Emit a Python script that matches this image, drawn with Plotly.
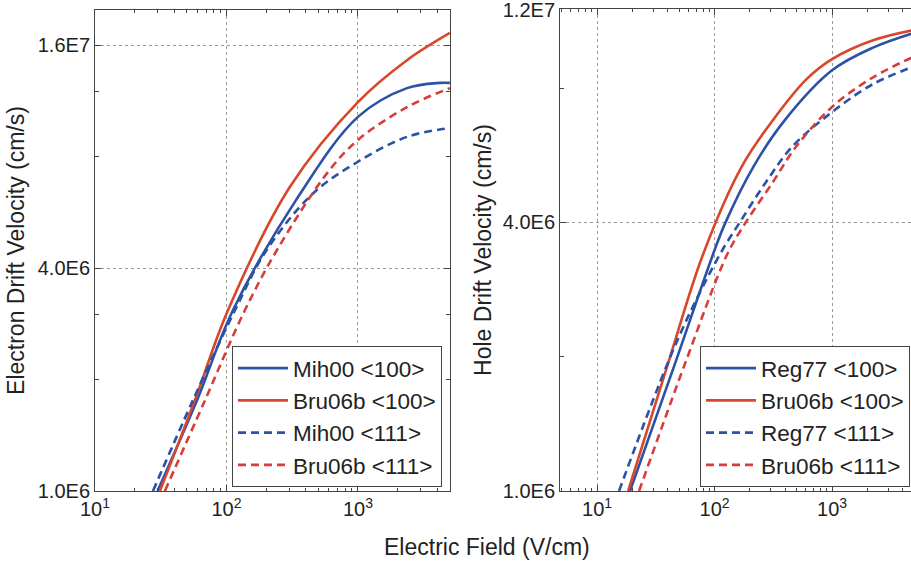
import plotly.graph_objects as go

# ---------------- data ----------------
# Electrons (left panel): electric field (V/cm) and drift velocity (cm/s)
e_mih100_E = [29.9, 59.7, 112, 338, 1000, 2360, 4200, 5000]
e_mih100_v = [1.0e6, 1.76e6, 3.08e6, 6.11e6, 1.026e7, 1.227e7, 1.268e7, 1.268e7]

e_bru100_E = [31.2, 57.5, 102.6, 304, 1000, 2360, 5000]
e_bru100_v = [1.0e6, 1.76e6, 3.08e6, 6.64e6, 1.125e7, 1.46e7, 1.73e7]

e_mih111_E = [27.6, 55.6, 116, 202, 457, 1000, 2360, 5000]
e_mih111_v = [1.0e6, 1.76e6, 3.08e6, 4.48e6, 6.38e6, 7.76e6, 9.06e6, 9.57e6]

e_bru111_E = [34.0, 68.7, 138, 242, 581, 1000, 2360, 5000]
e_bru111_v = [1.0e6, 1.76e6, 3.08e6, 4.48e6, 7.22e6, 8.89e6, 1.09e7, 1.227e7]

# Holes (right panel)
h_reg100_E = [19.1, 46.1, 97, 123, 214, 398, 1000, 2234, 5000]
h_reg100_v = [1.0e6, 1.93e6, 3.39e6, 3.98e6, 5.33e6, 6.79e6, 8.77e6, 9.86e6, 1.064e7]

h_bru100_E = [18.4, 40.2, 79.8, 170, 315, 610, 1000, 2234, 5000]
h_bru100_v = [1.0e6, 1.93e6, 3.39e6, 5.33e6, 6.79e6, 8.39e6, 9.29e6, 1.024e7, 1.08e7]

h_reg111_E = [15.4, 48, 111, 162, 269, 457, 1000, 2234, 5000]
h_reg111_v = [1.0e6, 2.17e6, 3.39e6, 3.98e6, 4.89e6, 5.91e6, 7.07e6, 8.17e6, 8.95e6]

h_bru111_E = [22.8, 56.1, 128, 182, 308, 494, 1000, 2234, 5000]
h_bru111_v = [1.0e6, 1.93e6, 3.39e6, 3.98e6, 4.89e6, 5.91e6, 7.26e6, 8.46e6, 9.42e6]

# tick labels
x_tickvals = [10, 100, 1000]
x_ticktext = ["10<sup>1</sup>", "10<sup>2</sup>", "10<sup>3</sup>"]
x_minor = [m * 10 ** k for k in range(0, 4) for m in range(2, 10)]
yl_tickvals = [1e6, 4e6, 1.6e7]
yl_ticktext = ["1.0E6", "4.0E6", "1.6E7"]
yl_minor = [2e6, 3e6, 8e6, 1.2e7]
yr_tickvals = [1e6, 4e6, 1.2e7]
yr_ticktext = ["1.0E6", "4.0E6", "1.2E7"]
yr_minor = [2e6, 8e6]

BLUE = "#2B52A6"
RED = "#D8472C"
RED_D = "#D93D3A"
FONT = "Liberation Sans"
TXT = "#222222"
AX = "#444444"

fig = go.Figure()

def add(E, v, name, color, dash, xa, ya, legend, grp):
    fig.add_trace(go.Scatter(
        x=E, y=v, mode="lines", name=name,
        line=dict(color=color, width=2.6, dash=dash, shape="spline", smoothing=1.0),
        xaxis=xa, yaxis=ya, legend=legend, legendgroup=grp,
    ))

DASH = "8px,5px"
add(e_mih100_E, e_mih100_v, "Mih00 <100>", BLUE, "solid", "x", "y", "legend", "a1")
add(e_bru100_E, e_bru100_v, "Bru06b <100>", RED, "solid", "x", "y", "legend", "a2")
add(e_mih111_E, e_mih111_v, "Mih00 <111>", BLUE, DASH, "x", "y", "legend", "a3")
add(e_bru111_E, e_bru111_v, "Bru06b <111>", RED_D, DASH, "x", "y", "legend", "a4")

add(h_reg100_E, h_reg100_v, "Reg77 <100>", BLUE, "solid", "x2", "y2", "legend2", "b1")
add(h_bru100_E, h_bru100_v, "Bru06b <100>", RED, "solid", "x2", "y2", "legend2", "b2")
add(h_reg111_E, h_reg111_v, "Reg77 <111>", BLUE, DASH, "x2", "y2", "legend2", "b3")
add(h_bru111_E, h_bru111_v, "Bru06b <111>", RED_D, DASH, "x2", "y2", "legend2", "b4")

W, H = 911, 561

def xaxis(domain, rng, anchor):
    return dict(
        type="log", domain=domain, range=rng, anchor=anchor,
        tickmode="array", tickvals=x_tickvals, ticktext=x_ticktext,
        ticks="inside", ticklen=6, tickcolor=AX, tickwidth=1,
        showline=True, linecolor=AX, linewidth=1, mirror="allticks",
        showgrid=True, gridcolor="#9a9a9a", griddash="dot", gridwidth=1,
        zeroline=False, ticklabeloverflow="allow",
        tickfont=dict(family=FONT, size=20, color=TXT),
        minor=dict(tickmode="array", tickvals=x_minor, ticks="inside",
                   ticklen=3, tickcolor=AX, showgrid=False),
    )

def yaxis(domain, rng, tv, tt, minor, title, mirror, standoff, anchor):
    return dict(
        type="log", domain=domain, range=rng, anchor=anchor,
        tickmode="array", tickvals=tv, ticktext=tt,
        ticks="inside", ticklen=6, tickcolor=AX, tickwidth=1,
        showline=True, linecolor=AX, linewidth=1, mirror=mirror,
        showgrid=True, gridcolor="#9a9a9a", griddash="dot", gridwidth=1,
        zeroline=False, ticklabeloverflow="allow",
        tickfont=dict(family=FONT, size=20, color=TXT),
        title=dict(text=title, font=dict(family=FONT, size=23, color=TXT), standoff=standoff),
        minor=dict(tickmode="array", tickvals=minor, ticks="inside",
                   ticklen=4, tickcolor=AX, showgrid=False),
    )

xl = xaxis([95 / W, 450 / W], [1.0, 3.70], "y")
xr = xaxis([560 / W, 1.0], [0.685, 3.672], "y2")
yl = yaxis([(H - 491) / H, (H - 10) / H], [6.0, 7.30], yl_tickvals, yl_ticktext, yl_minor,
           "Electron Drift Velocity (cm/s)", "allticks", 6, "x")
yr = yaxis([(H - 491) / H, (H - 9) / H], [6.0, 7.0805], yr_tickvals, yr_ticktext, yr_minor,
           "Hole Drift Velocity (cm/s)", False, 4, "x2")

legend_common = dict(
    bgcolor="white", bordercolor=AX, borderwidth=1,
    font=dict(family=FONT, size=22.5, color=TXT),
    tracegroupgap=0, itemwidth=50,
    xanchor="left", yanchor="bottom",
)

fig.update_layout(
    width=W, height=H,
    margin=dict(l=0, r=0, t=0, b=0, autoexpand=False),
    paper_bgcolor="white", plot_bgcolor="white",
    xaxis=xl, yaxis=yl, xaxis2=xr, yaxis2=yr,
    legend=dict(x=232 / W, y=(H - 487) / H, **legend_common),
    legend2=dict(x=700 / W, y=(H - 487) / H, **legend_common),
    showlegend=True,
    annotations=[dict(
        text="Electric Field (V/cm)", x=487 / W, y=(H - 547) / H,
        xref="paper", yref="paper", xanchor="center", yanchor="middle",
        showarrow=False, font=dict(family=FONT, size=23, color=TXT),
    )],
)

fig.write_html("out.html")
